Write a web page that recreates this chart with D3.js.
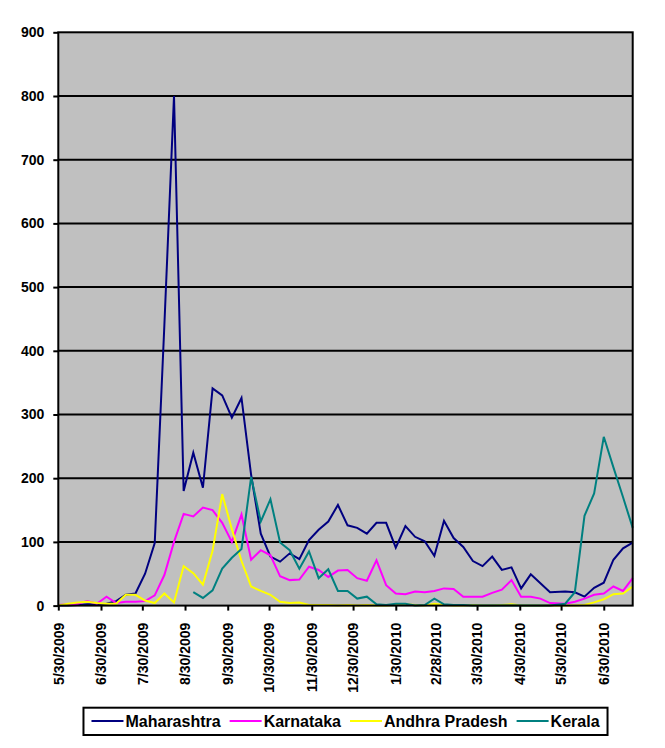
<!DOCTYPE html>
<html>
<head>
<meta charset="utf-8">
<script src="https://cdn.jsdelivr.net/npm/d3@7"></script>
<style>
  body { margin: 0; background: #fff; }
  text { font-family: "Liberation Sans", Arial, sans-serif; font-weight: bold; fill: #000; }
</style>
</head>
<body>
<svg id="chart" width="665" height="748"></svg>
<script>
// weekly report dates
const dates = [
  "2009-05-30","2009-06-06","2009-06-13","2009-06-20","2009-06-27","2009-07-04","2009-07-11","2009-07-18",
  "2009-07-25","2009-08-01","2009-08-08","2009-08-15","2009-08-22","2009-08-29","2009-09-05","2009-09-12",
  "2009-09-19","2009-09-26","2009-10-03","2009-10-10","2009-10-17","2009-10-24","2009-10-31","2009-11-07",
  "2009-11-14","2009-11-21","2009-11-28","2009-12-05","2009-12-12","2009-12-19","2009-12-26","2010-01-02",
  "2010-01-09","2010-01-16","2010-01-23","2010-01-30","2010-02-06","2010-02-13","2010-02-20","2010-02-27",
  "2010-03-06","2010-03-13","2010-03-20","2010-03-27","2010-04-03","2010-04-10","2010-04-17","2010-04-24",
  "2010-05-01","2010-05-08","2010-05-15","2010-05-22","2010-06-02","2010-06-09","2010-06-16","2010-06-23",
  "2010-06-30","2010-07-07","2010-07-14","2010-07-21"
];

const maharashtra = [0,0,1,2,2,3,7,17,19,50, 98,440,800,180,240,185,341,330,295,326,
  205,113,77,69,82,73,103,119,132,158, 126,122,113,130,130,91,125,108,101,78,
  133,106,92,70,62,77,56,60,27,49, 35,21,22,21,14,28,36,72,90,99];
const karnataka = [1,2,3,7,3,14,4,6,6,7, 16,48,100,144,140,154,150,130,100,143,
  72,87,79,46,40,41,61,56,45,55, 56,43,39,71,32,19,18,22,21,23,
  27,26,14,14,14,20,25,40,14,14, 11,4,3,6,11,17,19,30,23,43];
const andhra = [0,3,5,6,4,3,3,17,17,8, 4,19,5,62,51,33,86,175,120,70,
  30,23,17,6,4,5,1,1,1,0, 1,0,1,0,0,1,2,1,0,3,
  1,0,0,1,0,0,1,2,0,0, 0,0,0,0,1,5,10,18,19,30];
const kerala = [null,null,null,null,null,null,null,null,null,null, null,null,null,null,21,12,24,58,75,89,
  202,132,167,99,87,58,85,43,57,23, 23,11,14,2,1,3,3,0,1,11,
  2,1,1,0,0,0,0,0,0,0, 0,0,3,21,141,176,265,217,170,122];

const seriesNames = ["Maharashtra", "Karnataka", "Andhra Pradesh", "Kerala"];
const seriesColors = ["#000080", "#FF00FF", "#FFFF00", "#008080"];
const seriesValues = [maharashtra, karnataka, andhra, kerala];

const xTickLabels = ["5/30/2009","6/30/2009","7/30/2009","8/30/2009","9/30/2009","10/30/2009",
  "11/30/2009","12/30/2009","1/30/2010","2/28/2010","3/30/2010","4/30/2010","5/30/2010","6/30/2010"];
const yTicks = [0,100,200,300,400,500,600,700,800,900];

const plot = { left: 58.3, right: 632.7, top: 32.3, bottom: 605.6 };

const parseIso = d3.timeParse("%Y-%m-%d");
const parseLabel = d3.timeParse("%m/%d/%Y");
const dateObjs = dates.map(parseIso);

const x = d3.scaleTime()
  .domain(d3.extent(dateObjs))
  .range([plot.left, plot.right]);
const y = d3.scaleLinear()
  .domain([0, 900])
  .range([plot.bottom, plot.top]);

const svg = d3.select("#chart");

// plot background
svg.append("rect")
  .attr("x", plot.left).attr("y", plot.top)
  .attr("width", plot.right - plot.left).attr("height", plot.bottom - plot.top)
  .attr("fill", "#C0C0C0");

// gridlines
svg.append("g").selectAll("line")
  .data(yTicks.slice(1, -1))
  .join("line")
  .attr("x1", plot.left).attr("x2", plot.right)
  .attr("y1", d => y(d)).attr("y2", d => y(d))
  .attr("stroke", "#000").attr("stroke-width", 2);

// series lines
const line = d3.line()
  .defined(d => d.v != null)
  .x(d => x(d.date))
  .y(d => y(d.v));

seriesValues.forEach((vals, k) => {
  const pts = vals.map((v, i) => ({ date: dateObjs[i], v: v }));
  svg.append("path")
    .datum(pts)
    .attr("d", line)
    .attr("fill", "none")
    .attr("stroke", seriesColors[k])
    .attr("stroke-width", 2)
    .attr("stroke-linejoin", "miter");
});

// plot border
svg.append("rect")
  .attr("x", plot.left).attr("y", plot.top)
  .attr("width", plot.right - plot.left).attr("height", plot.bottom - plot.top)
  .attr("fill", "none").attr("stroke", "#000").attr("stroke-width", 2);

// y axis
const yAxis = svg.append("g")
  .attr("transform", `translate(${plot.left},0)`)
  .call(d3.axisLeft(y).tickValues(yTicks).tickSize(5).tickPadding(9));
yAxis.select(".domain").remove();
yAxis.selectAll(".tick line").attr("stroke", "#000").attr("stroke-width", 2);
yAxis.selectAll(".tick text")
  .style("font-size", "14px")
  .style("font-family", "'Liberation Sans', Arial, sans-serif")
  .style("font-weight", "bold");

// x axis
const xAxis = svg.append("g")
  .attr("transform", `translate(0,${plot.bottom})`)
  .call(d3.axisBottom(x)
    .tickValues(xTickLabels.map(parseLabel))
    .tickFormat(d3.timeFormat("%-m/%-d/%Y"))
    .tickSize(5));
xAxis.select(".domain").remove();
xAxis.selectAll(".tick line").attr("stroke", "#000").attr("stroke-width", 2);
xAxis.selectAll(".tick text")
  .attr("transform", "rotate(-90)")
  .attr("text-anchor", "end")
  .attr("x", -17)
  .attr("y", 0)
  .attr("dy", "0.35em")
  .style("font-size", "14px")
  .style("font-family", "'Liberation Sans', Arial, sans-serif")
  .style("font-weight", "bold");

// legend
const legend = svg.append("g");
const legBox = legend.append("rect")
  .attr("fill", "#fff").attr("stroke", "#000").attr("stroke-width", 2);
const legItems = legend.append("g");
const legY = 721;
let cursor = 0;
seriesNames.forEach((name, k) => {
  legItems.append("line")
    .attr("x1", cursor).attr("x2", cursor + 32)
    .attr("y1", legY).attr("y2", legY)
    .attr("stroke", seriesColors[k]).attr("stroke-width", 2);
  const t = legItems.append("text")
    .attr("x", cursor + 34).attr("y", legY).attr("dy", "0.36em")
    .style("font-size", "16px")
    .text(name);
  cursor += 34 + t.node().getComputedTextLength() + 9;
});
const legWidth = cursor - 9 + 16;
const legLeft = (plot.left + plot.right) / 2 - legWidth / 2;
legItems.attr("transform", `translate(${legLeft + 8},0)`);
legBox
  .attr("x", legLeft).attr("y", 707.7)
  .attr("width", legWidth).attr("height", 27.3);
</script>
</body>
</html>
